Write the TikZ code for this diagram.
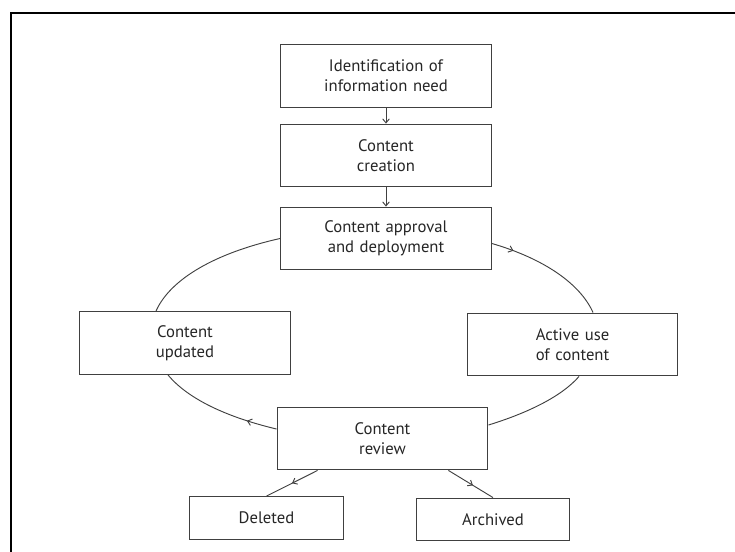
\documentclass[tikz,border=0pt]{standalone}
\usepackage{fontspec}
\setmainfont{PT Sans}
\usetikzlibrary{arrows.meta, decorations.markings}

\begin{document}
\begin{tikzpicture}[x=0.75pt, y=-0.75pt]
\tikzset{
  stage/.style={rectangle,draw=black!75,line width=0.9pt,fill=white,text=black!85,text width=150pt,align=center,minimum width=158pt,minimum height=47pt,inner sep=0pt,font=\fontsize{12.5}{15}\selectfont},
  fate/.style={stage,text width=110pt,minimum width=115pt,minimum height=32pt},
  ar/.style={-{Straight Barb[length=3pt,width=5pt]},line width=0.7pt,draw=black!75},
  cyc/.style={line width=0.7pt,draw=black!75},
  midar/.style={cyc,postaction={decorate},decoration={markings,mark=at position #1 with {\arrow{Straight Barb[length=3pt,width=5pt]}}}}
}
\useasboundingbox (0,0) rectangle (735,552);
% ---- frame
\draw[line width=1.5pt] (10.7,552) -- (10.7,12.7) -- (735,12.7);
% ---- stages
\node[stage] (need)     at (386,76)      {Identification of\\information need};
\node[stage] (create)   at (386,155.5)   {Content\\creation};
\node[stage] (approve)  at (386,238.5)   {Content approval\\and deployment};
\node[stage] (update)   at (185,343)     {Content\\updated};
\node[stage] (use)      at (572.5,344.5) {Active use\\of content};
\node[stage] (review)   at (382.5,438.5) {Content\\review};
\node[fate]  (deleted)  at (266.5,518)   {Deleted};
\node[fate]  (archived) at (493,519.5)   {Archived};
% ---- arrows
\draw[ar] (need) -- (create);
\draw[ar] (create) -- (approve);
\draw[midar=0.18] ([yshift=-3.75pt]approve.east) .. controls +(52.3,15.3) and +(-12.8,-28.7) .. ([xshift=15.4pt]use.north);
\draw[cyc] ([xshift=4.9pt]use.south) .. controls +(-17.6,20.3) and +(38.6,-11.9) .. ([yshift=10.1pt]review.east);
\draw[midar=0.25] ([yshift=7.1pt]review.west) .. controls +(-48.6,-11.6) and +(20.1,24.4) .. ([xshift=-12.75pt]update.south);
\draw[cyc] (approve.west) .. controls +(-63.5,14.2) and +(14.6,-32.7) .. ([xshift=-21.75pt]update.north);
\draw[midar=0.5] ([xshift=30.75pt]review.south west) -- (deleted.north);
\draw[midar=0.55] ([xshift=-30pt]review.south east) -- (archived.north);
\end{tikzpicture}
\end{document}
